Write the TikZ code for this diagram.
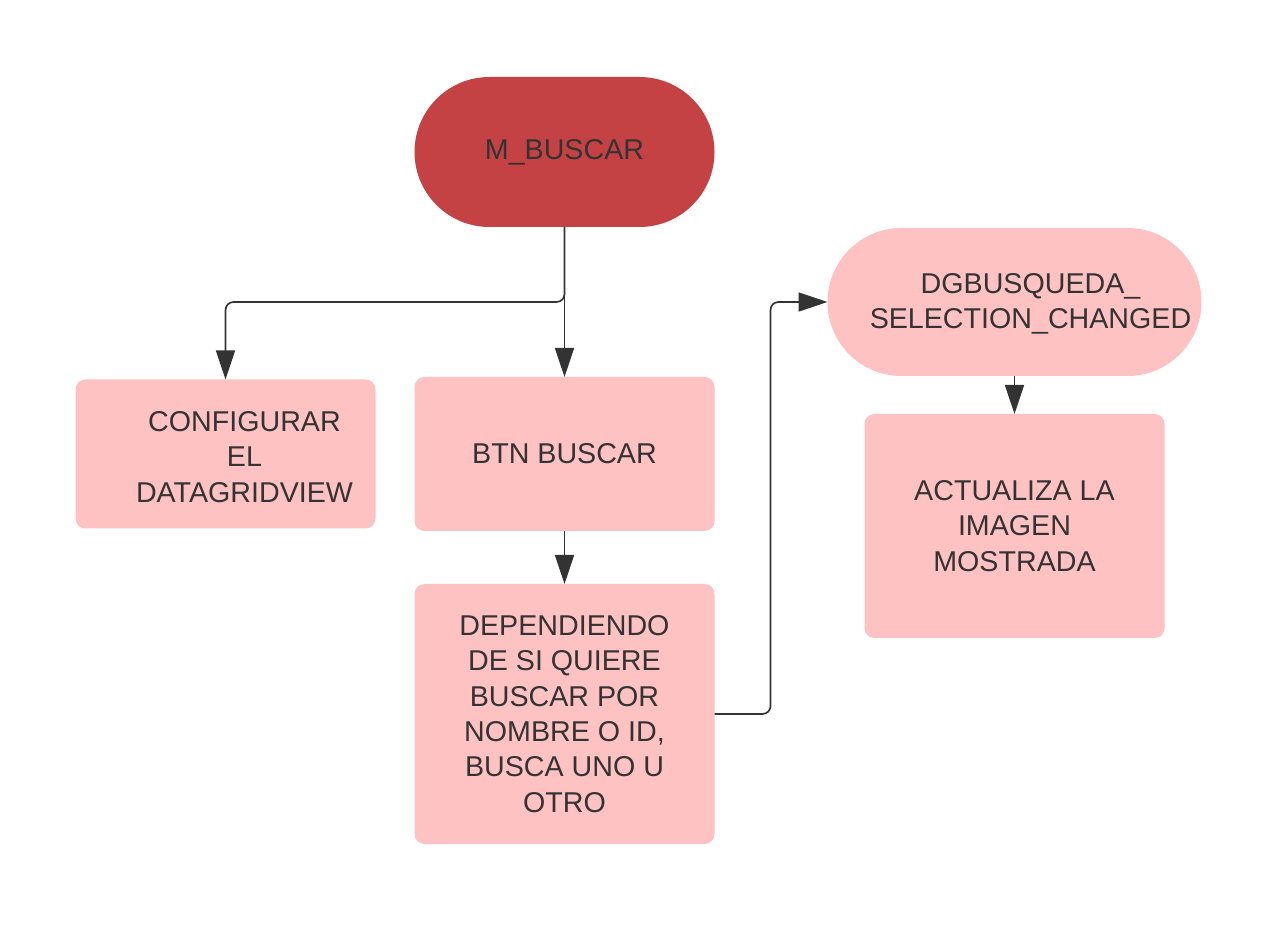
\documentclass[tikz,border=0pt]{standalone}
\usepackage{fontspec}
\setmainfont{Liberation Sans}
\usepackage{tikz}
\usetikzlibrary{positioning}
\usetikzlibrary{arrows.meta}
\definecolor{startred}{HTML}{C44244}
\definecolor{boxpink}{HTML}{FFC2C2}
\definecolor{inkgray}{HTML}{333333}

\begin{document}
\begin{tikzpicture}[font=\fontsize{16.3}{20.1}\selectfont, text=inkgray]
% Styles:
\tikzset{terminal/.style={fill=startred, rounded corners=1.5cm, minimum width=6cm, minimum height=3cm, outer sep=0pt}}
\tikzset{process/.style={fill=boxpink, rounded corners=0.2cm, minimum width=6cm, outer sep=0pt, align=center}}
\tikzset{conn/.style={draw=inkgray, line width=0.95pt, rounded corners=0.16cm, -{Triangle[length=0.58cm, width=0.38cm]}}}

\useasboundingbox (0,0) rectangle (25.28,-18.6);

% Main nodes:
\node[terminal] (mbuscar) at (11.29,-3.04) {M\_BUSCAR};
\node[process, minimum height=3.08cm] (btn) [below = 3cm of mbuscar] {BTN BUSCAR};
\node[process, minimum height=5.2cm] (dep) [below = 1.06cm of btn]
  {DEPENDIENDO\\DE SI QUIERE\\BUSCAR POR\\NOMBRE O ID,\\BUSCA UNO U\\OTRO};
\node[process, minimum height=2.98cm, label={[align=center, xshift=0.38cm, yshift=-0.06cm]center:CONFIGURAR\\EL\\DATAGRIDVIEW}] (conf) [left = 0.78cm of btn] {};

% Right branch:
\node[terminal, fill=boxpink, minimum width=7.48cm, minimum height=2.96cm, rounded corners=1.48cm,
  label={[align=center, xshift=0.32cm, yshift=-0.04cm]center:DGBUSQUEDA\_\\SELECTION\_CHANGED}] (dgb) [above right = 0.02cm and 2.26cm of btn] {};
\node[process, minimum height=4.48cm] (act) [below = 0.76cm of dgb] {ACTUALIZA LA\\IMAGEN\\MOSTRADA};

% Connectors:
\draw[conn] (mbuscar.south) -- ++(0,-1.5) -| (conf.north);
\draw[conn] (mbuscar.south) -- (btn.north);
\draw[conn] (btn.south) -- (dep.north);
\draw[conn] (dep.east) -- ++(1.12,0) |- (dgb.west);
\draw[conn] (dgb.south) -- (act.north);
\end{tikzpicture}
\end{document}
